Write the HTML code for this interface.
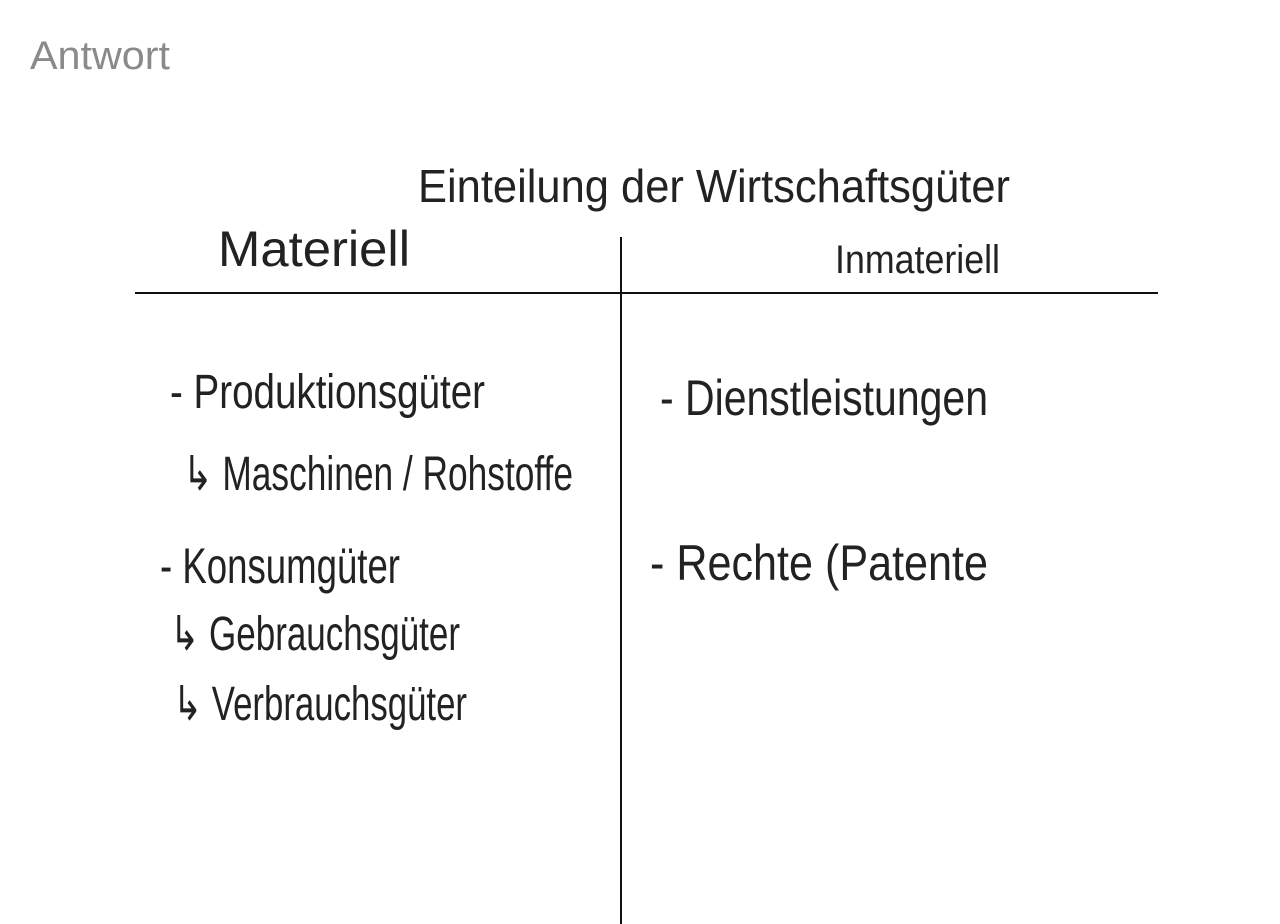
<!DOCTYPE html>
<html><head><meta charset="utf-8"><style>
html,body{margin:0;padding:0;background:#fff;width:1280px;height:924px;overflow:hidden}
svg{display:block}
text{font-family:"Liberation Sans",sans-serif;fill:#222}
</style></head><body>
<svg width="1280" height="924" viewBox="0 0 1280 924">
<text x="30" y="69" font-size="40" textLength="140" lengthAdjust="spacingAndGlyphs" style="fill:#8a8a8a">Antwort</text>
<line x1="135" y1="293" x2="1158" y2="293" stroke="#111" stroke-width="2"/>
<line x1="621" y1="237" x2="621" y2="924" stroke="#111" stroke-width="2"/>
<text x="418" y="202" font-size="46" textLength="592" lengthAdjust="spacingAndGlyphs">Einteilung der Wirtschaftsgüter</text>
<text x="218" y="266" font-size="50" textLength="192" lengthAdjust="spacingAndGlyphs">Materiell</text>
<text x="835" y="273" font-size="40" textLength="165" lengthAdjust="spacingAndGlyphs">Inmateriell</text>
<text x="170" y="408" font-size="48" textLength="315" lengthAdjust="spacingAndGlyphs">- Produktionsgüter</text>
<text x="183" y="490" font-size="48" textLength="390" lengthAdjust="spacingAndGlyphs">↳ Maschinen / Rohstoffe</text>
<text x="160" y="583" font-size="50" textLength="240" lengthAdjust="spacingAndGlyphs">- Konsumgüter</text>
<text x="170" y="650" font-size="48" textLength="290" lengthAdjust="spacingAndGlyphs">↳ Gebrauchsgüter</text>
<text x="173" y="720" font-size="48" textLength="294" lengthAdjust="spacingAndGlyphs">↳ Verbrauchsgüter</text>
<text x="660" y="415" font-size="50" textLength="328" lengthAdjust="spacingAndGlyphs">- Dienstleistungen</text>
<text x="650" y="580" font-size="50" textLength="338" lengthAdjust="spacingAndGlyphs">- Rechte (Patente</text>
</svg>
</body></html>
